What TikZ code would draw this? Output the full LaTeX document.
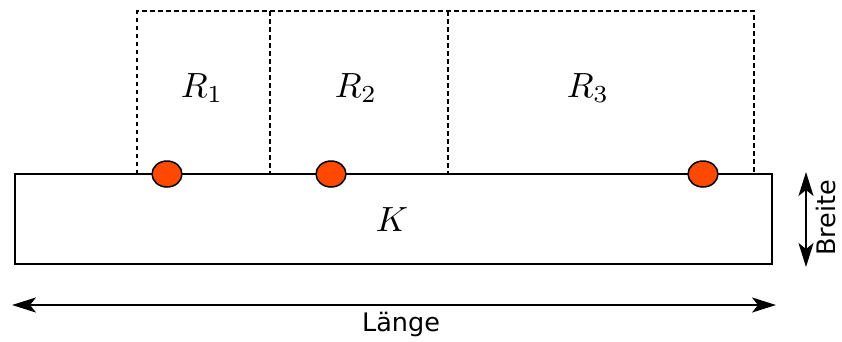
\documentclass[tikz,border=0pt]{standalone}
\usepackage{fontspec}
\newfontfamily\dejavu{DejaVu Sans}
\usetikzlibrary{arrows.meta,shapes.geometric}
\definecolor{dotred}{RGB}{255,72,0}
\begin{document}
\begin{tikzpicture}[x=1pt,y=-1pt,
  region/.style={draw,line width=2.3pt,dash pattern=on 4.5pt off 3.5pt},
  body/.style={draw,line width=2.3pt},
  dot/.style={draw,line width=1.5pt,fill=dotred,ellipse,inner sep=0pt,minimum width=30pt,minimum height=26pt},
  dim/.style={line width=2pt,{Stealth[length=24pt,width=15pt,inset=6pt]}-{Stealth[length=24pt,width=15pt,inset=6pt]}},
  mlabel/.style={font=\fontsize{10}{12}\selectfont,scale=3.5},
  slabel/.style={font=\dejavu\fontsize{25.5}{29}\selectfont}]
\useasboundingbox (0,0) rectangle (842,341);
\draw[region] (137,174) -- (137,11) -- (754,11) -- (754,174);
\draw[region] (270,11) -- (270,174);
\draw[region] (448,11) -- (448,174);
\draw[body] (15,174) rectangle (772,264);
\node[mlabel] (r1) at (202,88) {$R_1$};
\node[mlabel] (r2) at (356,88) {$R_2$};
\node[mlabel] (r3) at (588,88) {$R_3$};
\node[mlabel] (k) at (392,220) {$K$};
\node[dot] (d1) at (167,174) {};
\node[dot] (d2) at (331,174) {};
\node[dot] (d3) at (703,174) {};
\coordinate (la) at (12,305);
\coordinate (lb) at (776,305);
\draw[dim] (la) -- (lb);
\node[slabel] (laenge) at (401,324) {Länge};
\coordinate (ba) at (806,172);
\coordinate (bb) at (806,267);
\draw[dim] (ba) -- (bb);
\node[slabel,rotate=90] (breite) at (826,218) {Breite};
\end{tikzpicture}
\end{document}
